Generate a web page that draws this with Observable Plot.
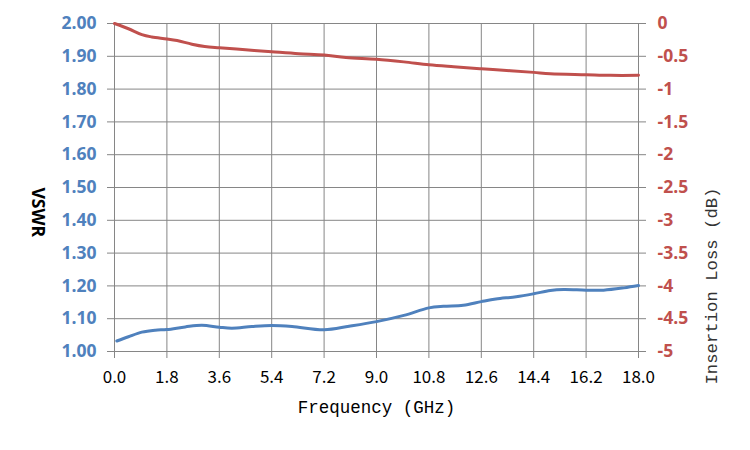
<!DOCTYPE html>
<html>
<head>
<meta charset="utf-8">
<script src="https://cdn.jsdelivr.net/npm/d3@7"></script>
<script src="https://cdn.jsdelivr.net/npm/@observablehq/plot@0.6"></script>
<style>
  html, body { margin: 0; padding: 0; background: #fff; }
</style>
</head>
<body>
<div id="chart"></div>
<script>
// Frequency (GHz) and VSWR readings
const vswrFreq = [0.08, 0.48, 0.94, 1.4, 1.8, 2.43, 3.0, 3.6, 4.03, 4.72, 5.4, 6.1, 7.2, 8.06, 9.0, 9.94, 10.8, 11.3, 11.98, 12.6, 13.1, 13.8, 14.4, 14.97, 15.43, 16.2, 16.8, 17.5, 18.0];
const vswr = [1.032, 1.045, 1.059, 1.065, 1.067, 1.075, 1.080, 1.074, 1.071, 1.076, 1.079, 1.076, 1.066, 1.077, 1.091, 1.110, 1.133, 1.138, 1.141, 1.152, 1.160, 1.167, 1.176, 1.186, 1.189, 1.187, 1.187, 1.194, 1.201];

// Frequency (GHz) and insertion loss (dB) readings
const lossFreq = [0, 0.48, 0.94, 1.28, 1.8, 2.15, 2.66, 3.1, 3.6, 4.5, 5.4, 6.33, 7.2, 7.95, 9.0, 9.94, 10.8, 11.65, 12.6, 13.6, 14.4, 14.97, 16.2, 17.03, 18.0];
const loss = [0, -0.08, -0.17, -0.205, -0.235, -0.26, -0.315, -0.35, -0.37, -0.40, -0.43, -0.46, -0.48, -0.52, -0.545, -0.585, -0.63, -0.66, -0.69, -0.72, -0.745, -0.765, -0.78, -0.79, -0.79];

// Tick values
const xTicks = [0, 1.8, 3.6, 5.4, 7.2, 9.0, 10.8, 12.6, 14.4, 16.2, 18.0];
const vswrTicks = [1.0, 1.1, 1.2, 1.3, 1.4, 1.5, 1.6, 1.7, 1.8, 1.9, 2.0];
const lossTicks = [0, -0.5, -1, -1.5, -2, -2.5, -3, -3.5, -4, -4.5, -5];

// Labels
const xTitle = "Frequency (GHz)";
const yLeftTitle = "VSWR";
const yRightTitle = "Insertion Loss (dB)";

// VSWR domain [1, 2] <-> loss domain [-5, 0]
const lossToY = d => 2 + d / 5;

const vswrData = vswrFreq.map((f, i) => ({f, v: vswr[i]}));
const lossData = lossFreq.map((f, i) => ({f, l: loss[i]}));

const grid = "#868686";
const blue = "#4F81BD";
const red = "#C0504D";
const mono = "'Liberation Mono', 'Courier New', Courier, monospace";

const chart = Plot.plot({
  width: 750,
  height: 450,
  marginLeft: 114,
  marginRight: 112,
  marginTop: 23,
  marginBottom: 99,
  style: {background: "#fff", overflow: "visible"},
  x: {domain: [0, 18]},
  y: {domain: [1, 2]},
  marks: [
    Plot.gridX(xTicks, {stroke: grid, strokeOpacity: 1, strokeWidth: 1}),
    Plot.gridY(vswrTicks, {stroke: grid, strokeOpacity: 1, strokeWidth: 1}),
    Plot.axisX(xTicks, {
      tickSize: 7, tickPadding: 12, stroke: grid, fill: "#000",
      tickFormat: d => d.toFixed(1), label: null,
      fontSize: 17, fontFamily: "Noto Sans CJK SC"
    }),
    Plot.axisY(vswrTicks, {
      anchor: "left", tickSize: 7, tickPadding: 11, stroke: grid, fill: blue,
      tickFormat: d => d.toFixed(2), label: null,
      fontSize: 17.5, fontWeight: "bold", fontFamily: "Open Sans"
    }),
    Plot.axisY(lossTicks.map(lossToY), {
      anchor: "right", tickSize: 7, tickPadding: 12, stroke: grid, fill: red,
      tickFormat: (d, i) => String(lossTicks[i]), label: null,
      fontSize: 17.5, fontWeight: "bold", fontFamily: "Open Sans"
    }),
    Plot.line(lossData, {
      x: "f", y: d => lossToY(d.l), stroke: red, strokeWidth: 3, curve: "catmull-rom"
    }),
    Plot.line(vswrData, {
      x: "f", y: "v", stroke: blue, strokeWidth: 3, curve: "catmull-rom"
    }),
    Plot.text([xTitle], {
      frameAnchor: "bottom", dy: 61, fontSize: 17.5, fontFamily: mono, fill: "#000"
    }),
    Plot.text([yLeftTitle], {
      frameAnchor: "left", dx: -77, rotate: 90, fontSize: 17.5, fontWeight: "bold",
      fontFamily: "Open Sans", fill: "#000"
    }),
    Plot.text([yRightTitle], {
      frameAnchor: "right", dx: 73, rotate: -90, fontSize: 17.3, fontFamily: mono, fill: "#333"
    })
  ]
});

document.getElementById("chart").appendChild(chart);
</script>
</body>
</html>
